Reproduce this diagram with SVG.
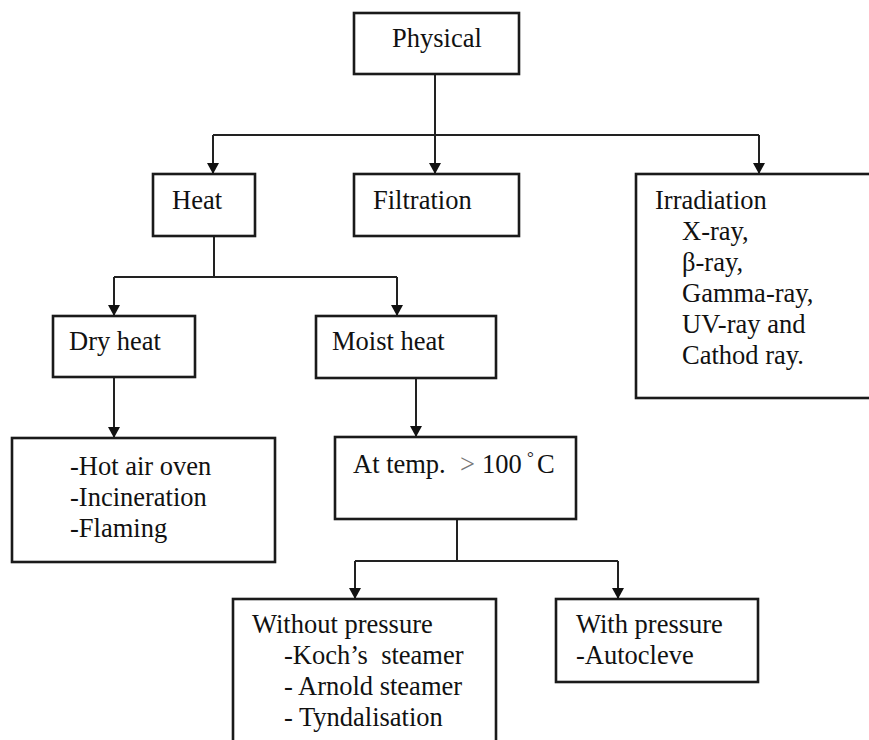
<svg xmlns="http://www.w3.org/2000/svg" width="869" height="740" viewBox="0 0 869 740">
<defs>
<marker id="arr" markerUnits="userSpaceOnUse" markerWidth="12" markerHeight="12" viewBox="0 0 12 12" refX="11" refY="6" orient="auto">
<path d="M0,0 L11,6 L0,12 Z" fill="#111"/>
</marker>
<style>
.box{fill:#fff;stroke:#1a1a1a;stroke-width:2.6}
.t{font-family:'Liberation Serif','Times New Roman',serif;font-size:26.5px;fill:#111}
.c{fill:none;stroke:#222;stroke-width:2}
</style>
</defs>
<rect width="869" height="740" fill="#fff"/>
<g id="connectors">
<path class="c" d="M435,74 V135 M213,135 H759"/>
<path class="c" d="M213,135 V174" marker-end="url(#arr)"/>
<path class="c" d="M435,135 V174" marker-end="url(#arr)"/>
<path class="c" d="M759,135 V174" marker-end="url(#arr)"/>
<path class="c" d="M214,236 V277 M114,277 H397"/>
<path class="c" d="M114,277 V316" marker-end="url(#arr)"/>
<path class="c" d="M397,277 V316" marker-end="url(#arr)"/>
<path class="c" d="M114,377 V438" marker-end="url(#arr)"/>
<path class="c" d="M416,378 V437" marker-end="url(#arr)"/>
<path class="c" d="M457,519 V561 M355,561 H618"/>
<path class="c" d="M355,561 V599" marker-end="url(#arr)"/>
<path class="c" d="M618,561 V599" marker-end="url(#arr)"/>
</g>
<g id="physical">
<rect class="box" x="354" y="13" width="165" height="61"/>
<text class="t" x="392" y="47">Physical</text>
</g>
<g id="heat">
<rect class="box" x="153" y="174" width="102" height="62"/>
<text class="t" x="172" y="209">Heat</text>
</g>
<g id="filtration">
<rect class="box" x="354" y="174" width="165" height="62"/>
<text class="t" x="373" y="209">Filtration</text>
</g>
<g id="irradiation">
<rect class="box" x="636" y="174" width="250" height="224"/>
<text class="t" x="655" y="209">Irradiation</text>
<text class="t" x="682" y="240">X-ray,</text>
<text class="t" x="682" y="271">β-ray,</text>
<text class="t" x="682" y="302">Gamma-ray,</text>
<text class="t" x="682" y="333">UV-ray and</text>
<text class="t" x="682" y="364">Cathod ray.</text>
</g>
<g id="dry-heat">
<rect class="box" x="53" y="316" width="142" height="61"/>
<text class="t" x="69" y="350">Dry heat</text>
</g>
<g id="moist-heat">
<rect class="box" x="316" y="316" width="180" height="62"/>
<text class="t" x="332" y="350">Moist heat</text>
</g>
<g id="dry-methods">
<rect class="box" x="12" y="438" width="263" height="124"/>
<text class="t" x="70" y="475">-Hot air oven</text>
<text class="t" x="70" y="506">-Incineration</text>
<text class="t" x="70" y="537">-Flaming</text>
</g>
<g id="at-temp">
<rect class="box" x="335" y="437" width="241" height="82"/>
<text class="t" x="353" y="473">At temp.</text>
<text class="t" x="460" y="473"><tspan fill="#777">&gt;</tspan><tspan x="482">100</tspan><tspan x="527" dy="-10" font-size="17">°</tspan><tspan x="537" dy="10">C</tspan></text>
</g>
<g id="without-pressure">
<rect class="box" x="233" y="599" width="263" height="160"/>
<text class="t" x="252" y="633">Without pressure</text>
<text class="t" x="284" y="664" xml:space="preserve">-Koch’s  steamer</text>
<text class="t" x="284" y="695">- Arnold steamer</text>
<text class="t" x="284" y="726">- Tyndalisation</text>
</g>
<g id="with-pressure">
<rect class="box" x="556" y="599" width="202" height="83"/>
<text class="t" x="576" y="633">With pressure</text>
<text class="t" x="576" y="664">-Autocleve</text>
</g>
</svg>
